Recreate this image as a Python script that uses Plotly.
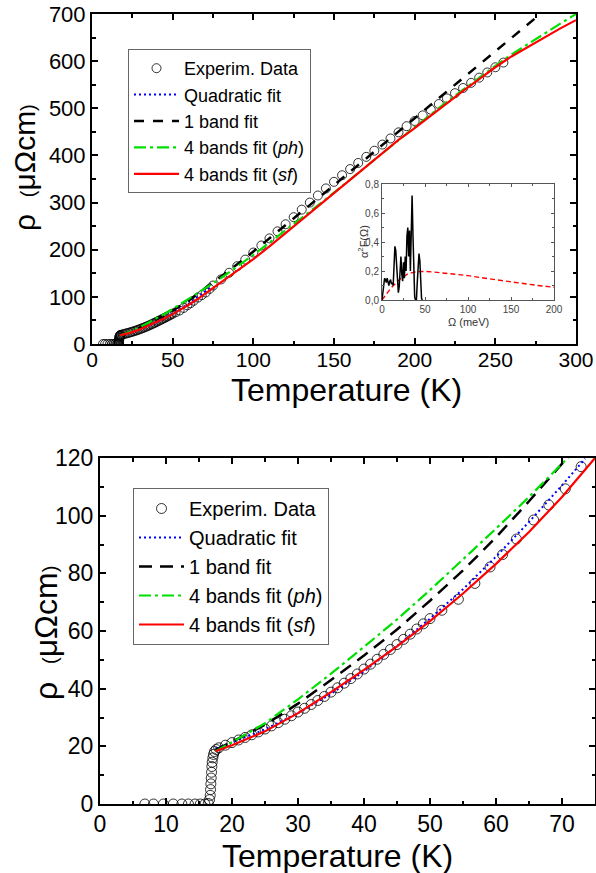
import plotly.graph_objects as go

W, H = 596, 873
FONT = "Liberation Sans, Arial, sans-serif"

T_exp = [6.8, 8.1, 9.6, 11.1, 12.4, 13.4, 14.4, 15.2, 15.9, 16.4,
         16.6, 16.7, 16.75, 16.8, 16.85, 16.9, 16.95, 17.0, 17.1, 17.2, 17.35, 17.6,
         18, 19, 20, 21, 22, 23, 24, 25, 26, 27, 28, 29, 30, 31, 32, 33, 34, 35,
         36, 37, 38, 39, 40, 41, 42, 43, 44, 45, 46, 47, 48, 49, 50,
         51.8, 54.3, 56.8, 59.1, 61.0, 63.1, 65.7, 68.0, 70.5, 72.9,
         75, 80, 85, 90, 95, 100, 105, 110, 115, 120, 125, 130, 135, 140, 145,
         150, 155, 160, 165, 170, 175, 180, 185, 190, 195, 200, 205, 210, 215,
         220, 225, 230, 235, 240, 245, 250, 255]
rho_exp = [0, 0, 0, 0, 0, 0, 0, 0, 0, 0.2,
           1.5, 3.0, 5.0, 7.0, 9.0, 11.0, 13.0, 14.5, 16.0, 17.2, 18.2, 18.9,
           19.5, 20.4, 21.3, 22.2, 23.1, 24.0, 25.0, 26.0, 27.1, 28.2, 29.4, 30.6,
           31.9, 33.2, 34.5, 35.9, 37.3, 38.8, 40.3, 41.9, 43.5, 45.1, 46.8, 48.5,
           50.2, 51.9, 53.6, 55.3, 57.1, 58.9, 60.7, 62.5, 64.3,
           67.2, 71.0, 76.5, 82.2, 86.5, 91.9, 98.5, 103.7, 109.3, 117.0,
           124, 137, 151, 165, 179, 194, 209, 224, 239, 254, 269, 285, 300, 315, 330,
           344, 358, 371, 384, 397, 410, 423, 436, 449, 462, 473, 485, 497, 509,
           521, 532, 543, 554, 565, 576, 587, 597]

# ---------------- fits ----------------
T_quad = [17.5, 20, 25, 30, 35, 40, 45, 50, 55, 60, 65, 70, 73.5]
rho_quad = [19.3, 21.3, 25.9, 31.5, 38.2, 46.0, 54.8, 64.3, 74.5, 85.8, 97.8, 110.5, 119.8]

T_1band = [17.5, 20, 25, 30, 35, 40, 45, 50, 55, 60, 65, 70, 75, 80, 90, 100, 120, 150, 200, 250, 280]
rho_1band = [18.8, 21.5, 27.5, 34.8, 43.0, 51.5, 60.5, 70.5, 81.0, 92.5, 105.0, 117.7, 130.5,
             143, 169, 196, 252, 337, 479, 621, 706]

T_ph = [17.5, 20, 25, 30, 35, 40, 45, 50, 55, 60, 65, 70, 75, 80, 90, 100, 110, 120, 130,
        140, 150, 160, 180, 200, 220, 240, 250, 260, 270, 280, 290, 300]
rho_ph = [18.2, 21.4, 28.0, 36.3, 45.2, 54.5, 64.0, 74.2, 84.8, 95.5, 106.5, 117.8, 129,
          140, 164, 189, 215, 241, 267, 294, 321, 349, 405, 460, 514, 565, 590, 614, 636,
          658, 679, 700]

T_sf = [17.5, 20, 25, 30, 35, 40, 45, 50, 55, 60, 65, 70, 75, 80, 90, 100, 110, 120, 130,
        140, 150, 160, 170, 180, 190, 200, 210, 220, 230, 240, 250, 260, 270, 280, 290, 300]
rho_sf = [18.3, 20.4, 25.2, 31.5, 38.8, 46.5, 54.7, 63.4, 73.0, 83.3, 94.3, 106.5, 120,
          132, 155, 180, 207, 235, 263, 291, 320, 349, 377, 405, 433, 458, 485, 511, 537,
          562, 587, 610, 630, 650, 669, 687]

# ---------------- inset: Eliashberg function ----------------
omega_a2F = [0, 1, 2, 3, 4, 5, 6, 7, 8, 9, 10, 11, 12, 13, 14, 15, 16, 17, 18, 19, 20,
             21, 22, 23, 24, 25, 26, 27, 28, 29, 30, 31, 32, 33, 34, 35, 36, 37, 38, 39,
             40, 41, 42, 43, 44, 45, 46, 47]
a2F = [0.0, 0.05, 0.12, 0.15, 0.14, 0.12, 0.15, 0.12, 0.10, 0.13, 0.14, 0.11, 0.12, 0.10,
       0.22, 0.37, 0.34, 0.22, 0.07, 0.05, 0.09, 0.18, 0.30, 0.18, 0.13, 0.26, 0.15, 0.30,
       0.20, 0.44, 0.50, 0.30, 0.48, 0.20, 0.55, 0.72, 0.45, 0.15, 0.02, 0.0, 0.0, 0.12,
       0.24, 0.32, 0.27, 0.10, 0.01, 0.0]
omega_sf = [0, 10, 20, 30, 40, 50, 60, 80, 100, 120, 140, 160, 180, 200]
a2F_sf = [0.0, 0.08, 0.14, 0.18, 0.195, 0.197, 0.193, 0.183, 0.168, 0.150, 0.132, 0.116,
          0.101, 0.088]

legend_names = ["Experim. Data", "Quadratic fit", "1 band fit",
                "4 bands fit (<i>ph</i>)", "4 bands fit (<i>sf</i>)"]

fig = go.Figure()


def add_panel(xa, ya, leg, msize, dash_black):
    fig.add_trace(go.Scatter(x=T_exp, y=rho_exp, mode="markers", name=legend_names[0],
                             xaxis=xa, yaxis=ya, legend=leg,
                             marker=dict(symbol="circle-open", size=msize, color="black",
                                         line=dict(width=0.8, color="black"))))
    fig.add_trace(go.Scatter(x=T_quad, y=rho_quad, mode="lines", name=legend_names[1],
                             xaxis=xa, yaxis=ya, legend=leg,
                             line=dict(color="#0000ff", width=2, dash="2px,3px")))
    fig.add_trace(go.Scatter(x=T_1band, y=rho_1band, mode="lines", name=legend_names[2],
                             xaxis=xa, yaxis=ya, legend=leg,
                             line=dict(color="black", width=2.5, dash=dash_black)))
    fig.add_trace(go.Scatter(x=T_ph, y=rho_ph, mode="lines", name=legend_names[3],
                             xaxis=xa, yaxis=ya, legend=leg,
                             line=dict(color="#00e000", width=2.2, dash="12px,4px,3px,4px")))
    fig.add_trace(go.Scatter(x=T_sf, y=rho_sf, mode="lines", name=legend_names[4],
                             xaxis=xa, yaxis=ya, legend=leg,
                             line=dict(color="#ff0000", width=2.2)))


add_panel("x", "y", "legend", 9, "10px,9px")
add_panel("x2", "y2", "legend2", 10, "13px,8px")

fig.add_trace(go.Scatter(x=omega_sf, y=a2F_sf, mode="lines", xaxis="x3", yaxis="y3",
                         showlegend=False, line=dict(color="#ff0000", width=1.4, dash="5px,3px")))
fig.add_trace(go.Scatter(x=omega_a2F, y=a2F, mode="lines", xaxis="x3", yaxis="y3",
                         showlegend=False, line=dict(color="black", width=1.5)))


def px_x(p):
    return p / W


def px_y(p):
    return 1 - p / H


def main_axis(domain, rng, dtick, minor, fs, anchor, standoff=0):
    return dict(domain=domain, range=rng, dtick=dtick, tick0=0, anchor=anchor,
                showline=True, linewidth=2, linecolor="black", mirror="ticks",
                ticks="inside", ticklen=6, tickwidth=1.5, tickcolor="black",
                minor=dict(ticks="inside", ticklen=3.5, tickwidth=1.5, tickcolor="black",
                           dtick=minor, tick0=0),
                showgrid=False, zeroline=False, automargin=False,
                ticklabelstandoff=standoff,
                tickfont=dict(family=FONT, size=fs, color="black"))


layout = dict(
    width=W, height=H, margin=dict(l=0, r=0, t=0, b=0, pad=0), autosize=False,
    paper_bgcolor="white", plot_bgcolor="white",
    xaxis=main_axis([px_x(92), px_x(576)], [0, 300], 50, 25, 21, "y", -4),
    yaxis=main_axis([px_y(344), px_y(14)], [0, 700], 100, 50, 22, "x"),
    xaxis2=main_axis([px_x(100), px_x(595)], [0, 75], 10, 5, 23, "y2", -2),
    yaxis2=main_axis([px_y(804), px_y(458)], [0, 120], 20, 10, 23, "x2"),
    xaxis3=dict(domain=[px_x(382), px_x(554)], range=[0, 200], anchor="y3",
                tickvals=[0, 50, 100, 150, 200], ticktext=["0", "50", "100", "150", "200"],
                showline=True, linewidth=1, linecolor="#555", mirror="ticks",
                ticks="inside", ticklen=3, tickcolor="#555",
                minor=dict(ticks="inside", ticklen=2, tickcolor="#555", dtick=25, tick0=0),
                showgrid=False, zeroline=False, automargin=False,
                tickfont=dict(family=FONT, size=10, color="#444")),
    yaxis3=dict(domain=[px_y(300), px_y(184)], range=[0, 0.8], anchor="x3",
                tickvals=[0, 0.2, 0.4, 0.6, 0.8], ticktext=["0,0", "0,2", "0,4", "0,6", "0,8"],
                showline=True, linewidth=1, linecolor="#555", mirror="ticks",
                ticks="inside", ticklen=3, tickcolor="#555",
                minor=dict(ticks="inside", ticklen=2, tickcolor="#555", dtick=0.1, tick0=0),
                showgrid=False, zeroline=False, automargin=False,
                tickfont=dict(family=FONT, size=10, color="#444")),
    legend=dict(x=px_x(128), y=px_y(49), xanchor="left", yanchor="top",
                bgcolor="white", bordercolor="#666", borderwidth=1,
                font=dict(family=FONT, size=18, color="black"),
                itemwidth=45, tracegroupgap=0),
    legend2=dict(x=px_x(133), y=px_y(488), xanchor="left", yanchor="top",
                 bgcolor="white", bordercolor="#666", borderwidth=1,
                 font=dict(family=FONT, size=20, color="black"),
                 itemwidth=45, tracegroupgap=0),
    annotations=[
        dict(text="Temperature (K)", x=px_x(346), y=px_y(390), xref="paper", yref="paper",
             showarrow=False, xanchor="center", yanchor="middle",
             font=dict(family=FONT, size=32, color="black")),
        dict(text="Temperature (K)", x=px_x(337), y=px_y(856), xref="paper", yref="paper",
             showarrow=False, xanchor="center", yanchor="middle",
             font=dict(family=FONT, size=32, color="black")),
        dict(text="ρ  <span style='font-size:20px'>(</span>μΩcm<span style='font-size:20px'>)</span>",
             x=px_x(25), y=px_y(168), xref="paper", yref="paper", textangle=-90,
             showarrow=False, xanchor="center", yanchor="middle",
             font=dict(family=FONT, size=30, color="black")),
        dict(text="ρ  <span style='font-size:20px'>(</span>μΩcm<span style='font-size:20px'>)</span>",
             x=px_x(46), y=px_y(633), xref="paper", yref="paper", textangle=-90,
             showarrow=False, xanchor="center", yanchor="middle",
             font=dict(family=FONT, size=32, color="black")),
        dict(text="α<sup>2</sup>F(Ω)",
             x=px_x(363), y=px_y(242), xref="paper", yref="paper", textangle=-90,
             showarrow=False, xanchor="center", yanchor="middle",
             font=dict(family=FONT, size=11, color="#333")),
        dict(text="Ω (meV)",
             x=px_x(468), y=px_y(322), xref="paper", yref="paper",
             showarrow=False, xanchor="center", yanchor="middle",
             font=dict(family=FONT, size=11, color="#333")),
    ],
)
fig.update_layout(**layout)
fig.write_html("out.html", config={"displayModeBar": False},
               post_script="document.body.style.margin='0';document.body.style.padding='0';"
                           "document.body.style.overflow='hidden';")
